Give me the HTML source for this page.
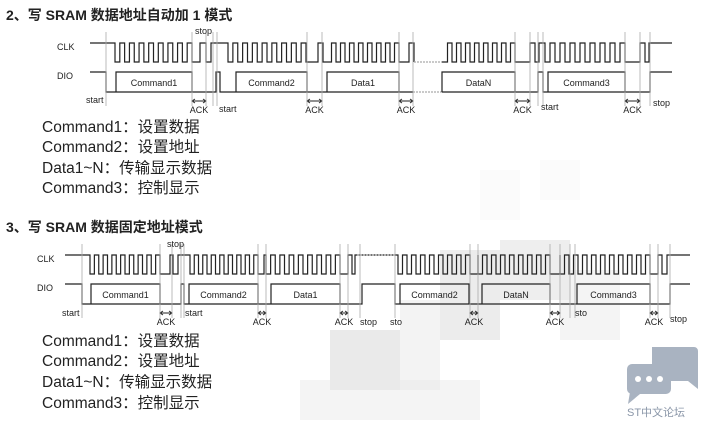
<!DOCTYPE html>
<html><head><meta charset="utf-8">
<style>
html,body{margin:0;padding:0;background:#fff;}
body{width:705px;height:431px;overflow:hidden;position:relative;}
svg{position:absolute;left:0;top:0;}
text{font-family:"Liberation Sans","Noto Sans CJK SC",sans-serif;fill:#222;}
</style></head><body>
<svg id="s" width="705" height="431" viewBox="0 0 705 431" xmlns="http://www.w3.org/2000/svg">
<g id="wm" fill="#bbb" opacity="0.3">
<rect x="330" y="330" width="70" height="60"/><rect x="400" y="300" width="40" height="90" opacity="0.6"/>
<rect x="440" y="250" width="60" height="90" opacity="0.9"/><rect x="500" y="240" width="70" height="60" opacity="0.8"/>
<rect x="480" y="170" width="40" height="50" opacity="0.2"/><rect x="540" y="160" width="40" height="40" opacity="0.2"/>
<rect x="300" y="380" width="180" height="40" opacity="0.5"/><rect x="560" y="270" width="60" height="70" opacity="0.5"/>
</g>
<g id="g" stroke="#222" stroke-width="1.2" fill="none"></g>
<g id="v" stroke="#aaa" stroke-width="0.8" fill="none"></g>
<g font-size="14" font-weight="bold">
<text x="6" y="20">2、写 SRAM 数据地址自动加 1 模式</text>
<text x="6" y="232">3、写 SRAM 数据固定地址模式</text>
</g>
<g font-size="9">
<text x="57" y="50">CLK</text><text x="57" y="79">DIO</text>
<text x="37" y="262">CLK</text><text x="37" y="291">DIO</text>
</g>
<g font-size="9" id="lbl"></g>
<g font-size="15.5">
<text x="42" y="132">Command1：设置数据</text>
<text x="42" y="152">Command2：设置地址</text>
<text x="42" y="173">Data1~N：传输显示数据</text>
<text x="42" y="193">Command3：控制显示</text>
<text x="42" y="346">Command1：设置数据</text>
<text x="42" y="366">Command2：设置地址</text>
<text x="42" y="387">Data1~N：传输显示数据</text>
<text x="42" y="408">Command3：控制显示</text>
</g>
<g fill="#a9b3c1">
<path d="M652 347 h42 a4 4 0 0 1 4 4 v38 l-10 -8 h-36 z"/>
<rect x="627" y="364" width="44" height="30" rx="5"/>
<path d="M630 392 l-2 12 l12 -10 z"/>
</g>
<g fill="#fff"><circle cx="638" cy="379" r="3"/><circle cx="649" cy="379" r="3"/><circle cx="660" cy="379" r="3"/></g>
<text x="627" y="416" font-size="11" style="fill:#8a96a8">ST中文论坛</text>
</svg>
<script>
var NS="http://www.w3.org/2000/svg";
function el(p,t,a,txt){var e=document.createElementNS(NS,t);for(var k in a)e.setAttribute(k,a[k]);if(txt)e.textContent=txt;document.getElementById(p).appendChild(e);return e;}
function wave(spec,H,L){
 var d="",lvl=null,x=null;
 function go(nl,nx){ if(lvl===null){d="M"+nx+" "+(nl?H:L);}else{d+=" H"+nx; if(nl!==lvl)d+=" V"+(nl?H:L);} lvl=nl;x=nx;}
 spec.forEach(function(o){
  if(o[0]=='H')go(1,o[1]);else if(o[0]=='L')go(0,o[1]);else if(o[0]=='E')d+=" H"+o[1];
  else{var a=o[1],b=o[2],n=o[3],p=(b-a)/n;for(var i=0;i<n;i++){go(0,a+i*p);go(1,a+i*p+p/2);}go(0,b);}
 });
 el('g','path',{d:d});
}
function box(a,b,H,L,t){el('g','path',{d:"M"+a+" "+L+" V"+H+" H"+b+" V"+L});el('lbl','text',{x:(a+b)/2,y:H+14,'text-anchor':'middle'},t);}
function dot(a,b,y){el('g','line',{x1:a,x2:b,y1:y,y2:y,stroke:'#aaa','stroke-dasharray':'2,1'});}
function vl(xs,y1,y2){xs.forEach(function(x){el('v','line',{x1:x,x2:x,y1:y1,y2:y2});});}
function lab(x,y,t,anc){el('lbl','text',{x:x,y:y,'text-anchor':anc||'start'},t);}
function ack(a,b,y){el('g','path',{d:"M"+a+" "+y+" H"+b+" M"+(a+3)+" "+(y-2)+" L"+a+" "+y+" L"+(a+3)+" "+(y+2)+" M"+(b-3)+" "+(y-2)+" L"+b+" "+y+" L"+(b-3)+" "+(y+2),'stroke-width':0.9});lab((a+b)/2,y+12,'ACK','middle');}
wave([['H',90],['P',115,192,8],['H',200],['L',206],['H',211],['P',228,306,8],['H',318],['L',323],['P',327,399,8],['H',409],['L',414]],43,62);
dot(414,442,62);
wave([['L',442],['P',443,515,8],['H',530],['L',535],['H',539],['P',545,625,8],['H',640],['L',645],['H',649],['E',672]],43,62);
wave([['H',90],['L',106],['H',216],['L',220],['E',413]],72,92);
dot(413,442,92);
wave([['L',442],['H',538],['L',543],['H',650],['E',672]],72,92);
box(116,192,72,92,'Command1');box(236,307,72,92,'Command2');box(327,399,72,92,'Data1');box(442,515,72,92,'DataN');box(548,625,72,92,'Command3');
vl([106,192,206,213,217,307,322,399,413,515,530,538,543,625,640,650],32,106);
ack(192,206,101);ack(307,322,101);ack(399,413,101);ack(515,530,101);ack(625,640,101);
lab(86,103,'start');lab(219,112,'start');lab(195,34,'stop');lab(541,110,'start');lab(653,106,'stop');
wave([['H',65],['P',90,160,8],['H',170],['L',173],['H',178],['P',190,258,8],['H',264],['P',266,340,8],['H',348],['L',352],['H',355],['E',395]],255,274);
dot(357,395,255);
wave([['H',395],['P',398,470,8],['H',478],['P',478,550,8],['H',560],['P',560,650,10],['H',658],['L',662],['H',667],['E',690]],255,274);
wave([['H',65],['L',82],['H',181],['L',184],['H',362],['L',395],['H',670],['E',690]],284,304);
box(91,160,284,304,'Command1');box(189,258,284,304,'Command2');box(271,340,284,304,'Data1');box(400,469,284,304,'Command2');box(482,550,284,304,'DataN');box(577,650,284,304,'Command3');
vl([82,160,172,181,184,258,266,340,348,360,395,470,478,550,560,570,575,650,658,670],244,318);
ack(160,172,313);ack(258,266,313);ack(340,348,313);ack(470,478,313);ack(550,560,313);ack(650,658,313);
lab(62,316,'start');lab(185,316,'start');lab(167,247,'stop');lab(360,325,'stop');lab(390,325,'sto');lab(575,316,'sto');lab(670,322,'stop');
</script>
</body></html>
